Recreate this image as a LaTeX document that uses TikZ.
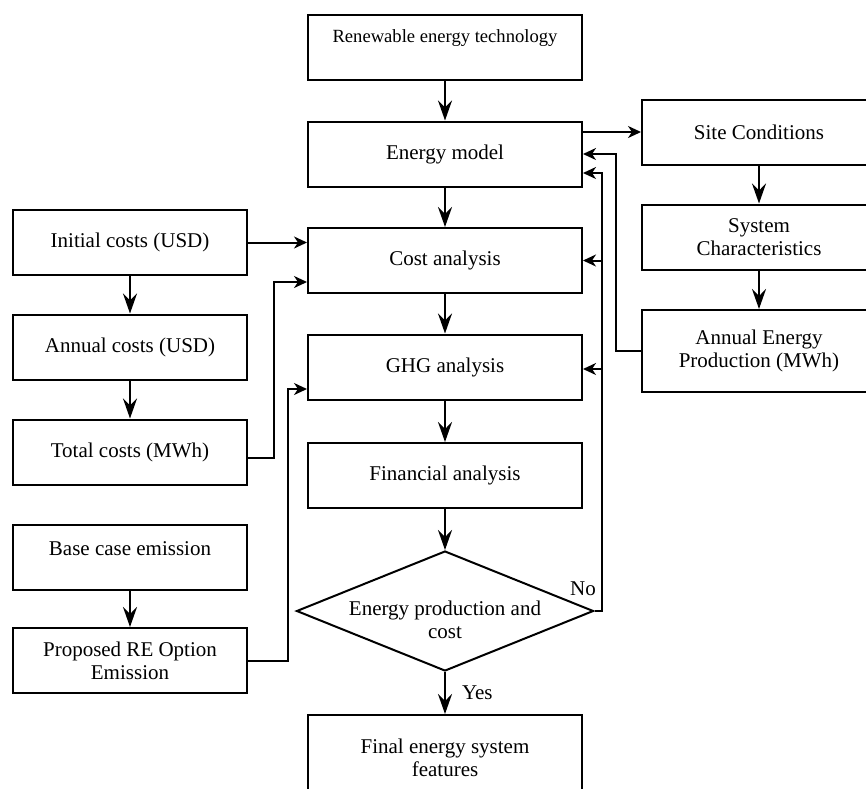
\documentclass[tikz,border=0pt]{standalone}
\usepackage{fontspec}
\setmainfont{Liberation Serif}
\usetikzlibrary{shapes.geometric,arrows.meta}
\begin{document}
\begin{tikzpicture}[x=0.5pt,y=-0.5pt,
  txt/.style={font=\fontsize{10.5}{11.6}\selectfont},
  box/.style={draw,line width=1pt,minimum width=137pt,minimum height=32.5pt,inner sep=0pt,align=center,txt},
  sidebox/.style={box,minimum width=117pt},
  lbl/.style={txt,inner sep=0pt,align=center},
  link/.style={line width=1pt,-{Stealth[length=6.5pt,width=6pt,inset=2pt]}},
  vlink/.style={line width=1pt,-{Stealth[length=10pt,width=7pt,inset=3.5pt]}}]
\useasboundingbox (0,0) rectangle (866,788);

% central column
\node[box] (ret) at (445,47.5) {};
\node[lbl,font=\fontsize{9.3}{11}\selectfont] (rett) at (445,38) {Renewable energy technology};
\node[box] (em) at (445,154) {Energy model};
\node[box] (ca) at (445,260.5) {Cost analysis};
\node[box] (ghg) at (445,367) {GHG analysis};
\node[box] (fa) at (445,475.5) {Financial analysis};
\node[draw,line width=1pt,diamond,aspect=2.475,minimum width=148.5pt,minimum height=60pt,inner sep=0pt] (dm) at (445,611) {};
\node[lbl] (dmt) at (445,620) {Energy production and\\cost};
\node[box,minimum height=43pt] (fin) at (445,758) {Final energy system\\features};

% right column
\node[sidebox] (sc) at (759,132) {Site Conditions};
\node[sidebox] (syc) at (759,237) {System\\Characteristics};
\node[sidebox,minimum height=41pt] (aep) at (759,351) {Annual Energy\\Production (MWh)};

% left column
\node[sidebox] (ic) at (130,242.5) {Initial costs (USD)};
\node[sidebox] (ac) at (130,347) {Annual costs (USD)};
\node[sidebox] (tc) at (130,452) {Total costs (MWh)};
\node[sidebox] (bce) at (130,557.5) {};
\node[lbl] (bcet) at (130,549) {Base case emission};
\node[sidebox] (pre) at (130,660.5) {Proposed RE Option\\Emission};

% main flow
\draw[vlink] (ret) -- (em);
\draw[vlink] (em) -- (ca);
\draw[vlink] (ca) -- (ghg);
\draw[vlink] (ghg) -- (fa);
\draw[vlink] (fa) -- (dm);
\draw[vlink] (dm.south) -- node[lbl,anchor=west,xshift=8pt] (yes) {Yes} (fin.north);

% site data chain
\draw[link] (em.east |- sc.west) -- (sc.west);
\draw[vlink] (sc) -- (syc);
\draw[vlink] (syc) -- (aep);
\draw[link] (aep.west) -- ++(-12.5pt,0) |- (em.east);

% "No" feedback loop
\coordinate (nox) at (602,611);
\draw[link] (dm.east) -- (nox) |- ([yshift=-9.5pt]em.east);
\draw[link] (nox |- ca.east) -- (ca.east);
\draw[link] ([yshift=-1pt]nox |- ghg.east) -- ([yshift=-1pt]ghg.east);
\node[lbl] (no) at (583,589) {No};

% cost inputs
\draw[vlink] (ic) -- (ac);
\draw[vlink] (ac) -- (tc);
\draw[link] (ic.east) -- (ic.east -| ca.west);
\draw[link] ([yshift=-3pt]tc.east) -- ++(13pt,0) |- ([yshift=-10.75pt]ca.west);

% emission inputs
\draw[vlink] (bce) -- (pre);
\draw[link] (pre.east) -- ++(20pt,0) |- ([yshift=-11pt]ghg.west);
\end{tikzpicture}
\end{document}
